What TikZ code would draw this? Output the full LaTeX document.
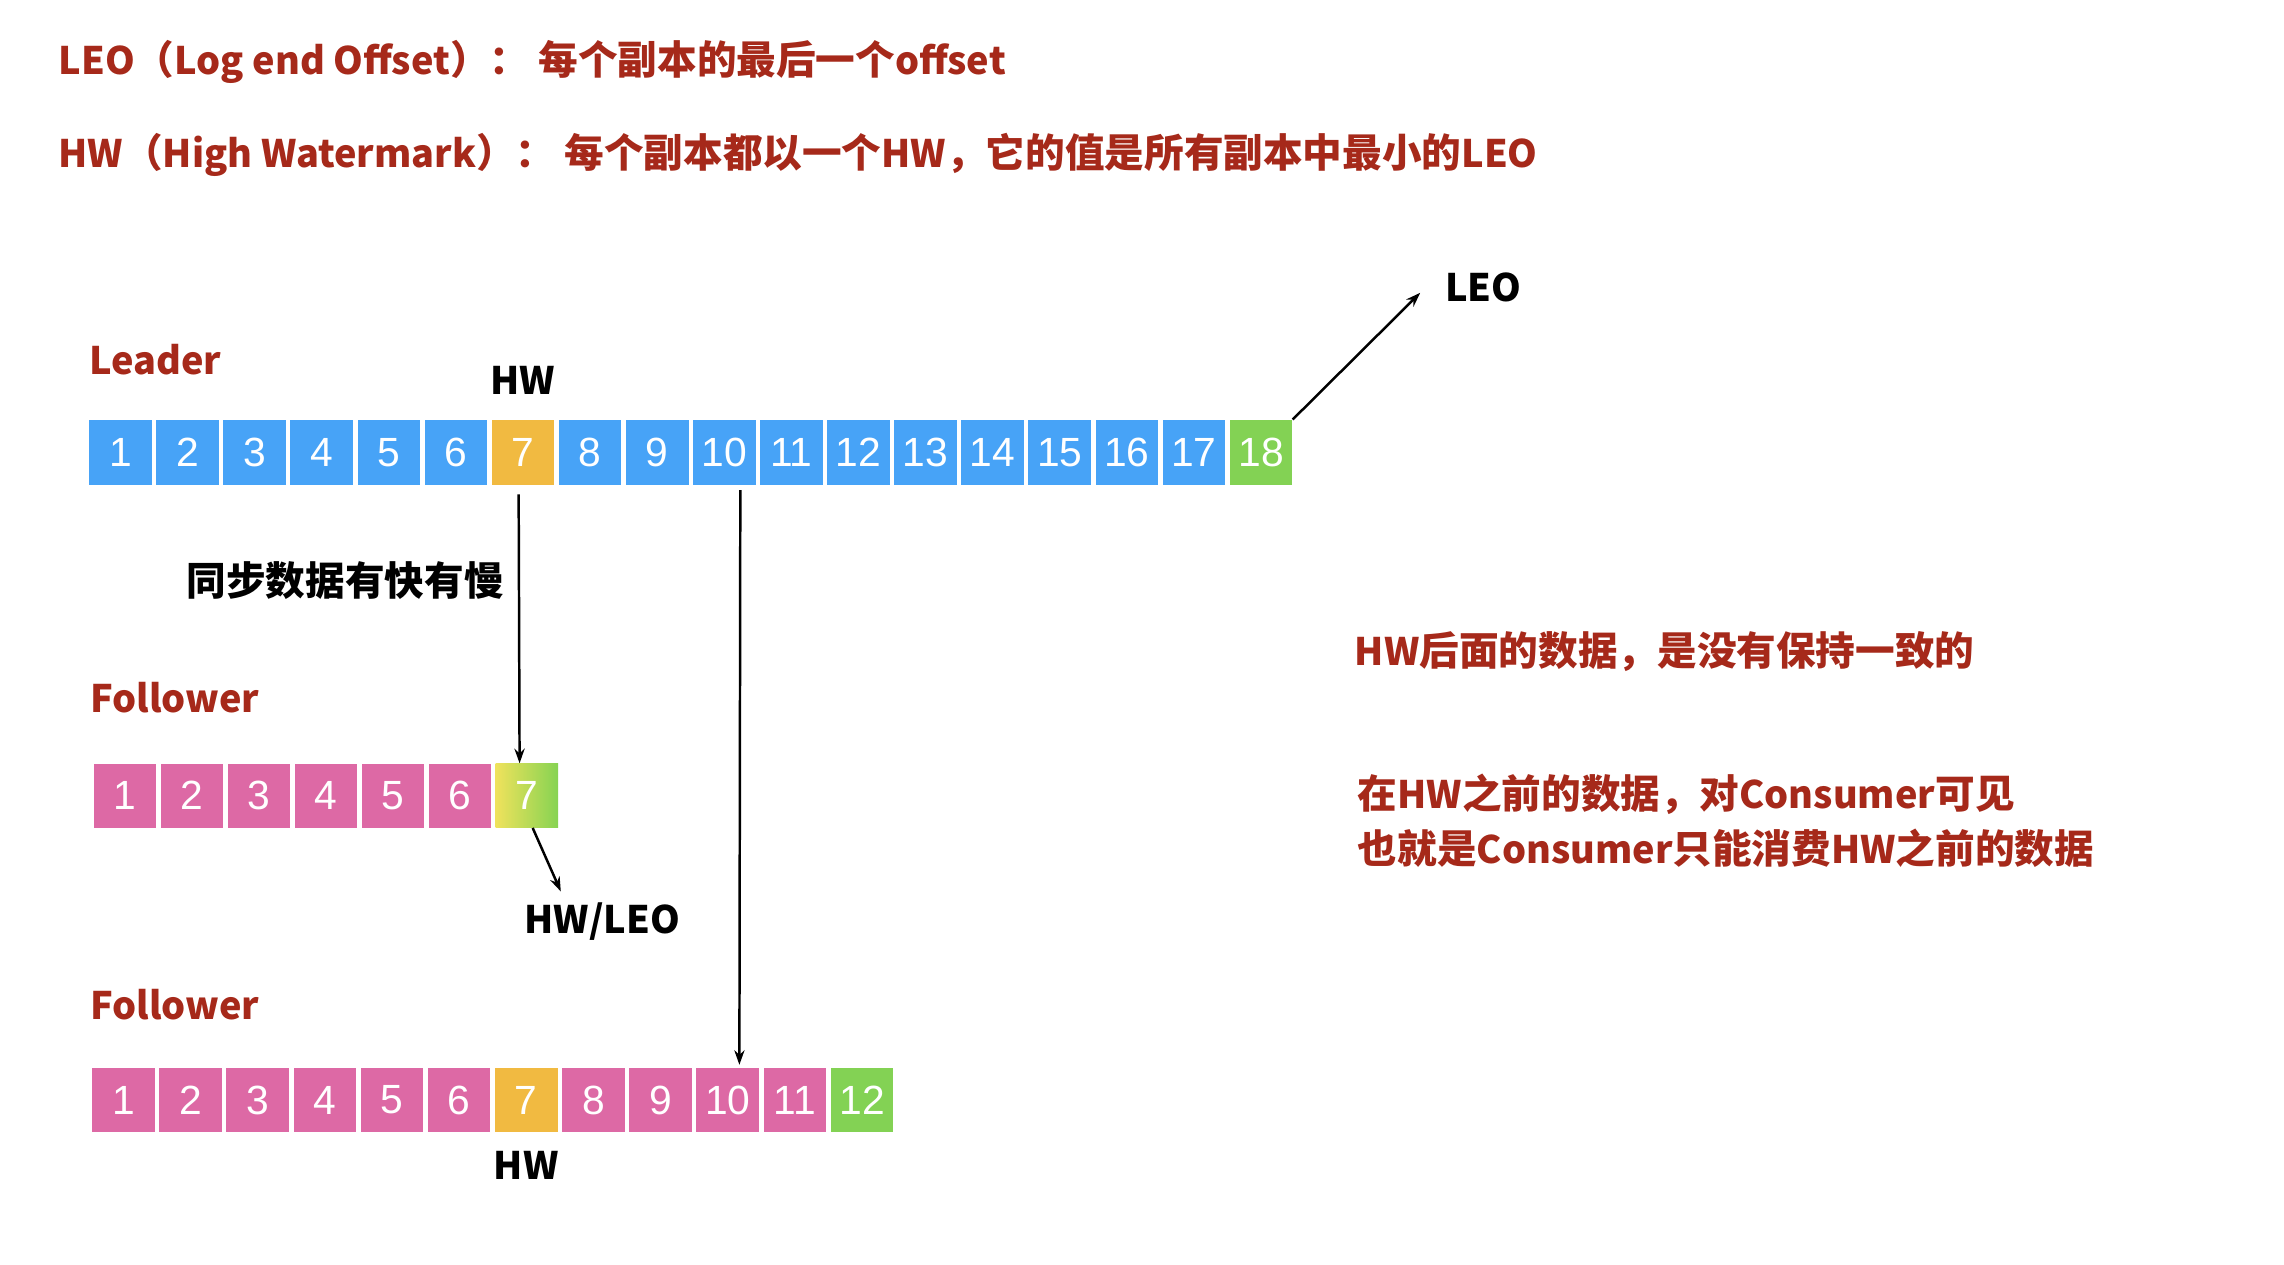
\documentclass[tikz,border=0pt]{standalone}
\usepackage{fontspec}
\setmainfont{Noto Sans CJK SC}
\newfontfamily\numfont{Liberation Sans}
\usetikzlibrary{arrows.meta}
\definecolor{boxblue}{RGB}{71,163,247}
\definecolor{boxorange}{RGB}{241,186,65}
\definecolor{boxgreen}{RGB}{131,210,84}
\definecolor{boxpink}{RGB}{221,105,165}
\definecolor{gradyellow}{RGB}{239,226,92}
\definecolor{gradgreen}{RGB}{134,211,82}
\definecolor{textred}{RGB}{166,41,26}
\newcommand{\zh}[1]{{\fontsize{27.2}{30}\selectfont #1}}
\begin{document}
\begin{tikzpicture}[x=1pt,y=-1pt,
  cell/.style={minimum width=43pt, minimum height=45pt, inner sep=0pt, text=white,
    font=\numfont\fontsize{28}{28}\selectfont, anchor=north west},
  redtxt/.style={text=textred, font=\bfseries\fontsize{26}{30}\selectfont, inner sep=0pt, anchor=base west},
  blktxt/.style={text=black, font=\bfseries\fontsize{26}{30}\selectfont, inner sep=0pt, anchor=base west},
  arr/.style={-{Stealth[length=10pt,width=7pt]}, line width=1.7pt}]
\useasboundingbox (0,0) rectangle (1568,868);
\fill[white] (0,0) rectangle (1568,868);

% header texts
\node[redtxt] (t1) at (40,51) {LEO\zh{（}Log end Offset\zh{）： 每个副本的最后一个}offset};
\node[redtxt] (t2) at (40,115) {HW\zh{（}High Watermark\zh{）： 每个副本都以一个}HW\zh{，它的值是所有副本中最小的}LEO};

% leader
\node[redtxt] (leader) at (61,257) {Leader};
\foreach \i in {1,...,18}{
  \ifnum\i=7 \def\c{boxorange}\else\ifnum\i=18 \def\c{boxgreen}\else\def\c{boxblue}\fi\fi
  \pgfmathsetmacro\xx{61+(\i-1)*46.06}
  \node[cell, fill=\c] (L\i) at (\xx,288) {\i};
}
\node[blktxt, anchor=base] (hwtop) at (L7.center |- 0,271) {HW};
\node[blktxt] (leo) at (992,207) {LEO};
\coordinate (leoTip) at (975,201);
\draw[arr] (L18.north east) -- (leoTip);

\node[blktxt] (sync) at (128,409) {\zh{同步数据有快有慢}};

% follower 1
\node[redtxt] (f1) at (62,489) {Follower};
\foreach \i in {1,...,6}{
  \pgfmathsetmacro\xx{64+(\i-1)*46}
  \node[cell, minimum height=44pt, fill=boxpink] (A\i) at (\xx,524) {\i};
}
\node[cell, minimum height=44pt, left color=gradyellow, right color=gradgreen] (A7) at (340,524) {7};
\node[blktxt] (hwleo) at (360,641) {HW/LEO};
\coordinate (hwleoTip) at (385,612);
\draw[arr] ([xshift=4pt]A7.south) -- (hwleoTip);

% follower 2
\node[redtxt] (f2) at (62,700) {Follower};
\foreach \i in {1,...,12}{
  \ifnum\i=7 \def\c{boxorange}\else\ifnum\i=12 \def\c{boxgreen}\else\def\c{boxpink}\fi\fi
  \pgfmathsetmacro\xx{63+(\i-1)*46.1}
  \node[cell, minimum height=44pt, fill=\c] (B\i) at (\xx,733) {\i};
}
\node[blktxt, anchor=base] (hwbot) at (B7.center |- 0,810) {HW};

% sync arrows
\draw[arr] ([xshift=-3pt,yshift=-6pt]L7.south) -- ([xshift=-5pt]A7.north);
\draw[arr] ([xshift=11pt,yshift=-3pt]L10.south) -- ([xshift=8pt,yshift=2pt]B10.north);

% right texts
\node[redtxt] (r1) at (930,457) {HW\zh{后面的数据，是没有保持一致的}};
\node[redtxt] (r2) at (932,555) {\zh{在}HW\zh{之前的数据，对}Consumer\zh{可见}};
\node[redtxt] (r3) at (932,593) {\zh{也就是}Consumer\zh{只能消费}HW\zh{之前的数据}};
\end{tikzpicture}
\end{document}
